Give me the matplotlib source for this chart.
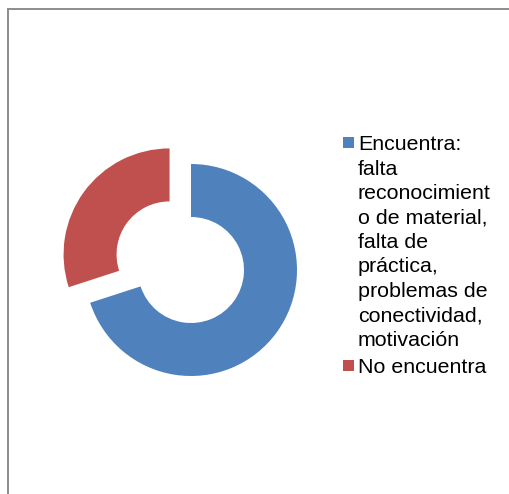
import matplotlib
matplotlib.use("Agg")
import matplotlib.pyplot as plt
from matplotlib.lines import Line2D
from matplotlib.patches import Rectangle

# data
labels = [
    "Encuentra:\nfalta\nreconocimient\no de material,\nfalta de\npráctica,\nproblemas de\nconectividad,\nmotivación",
    "No encuentra",
]
values = [70, 30]
colors = ["#4F81BD", "#C0504D"]
explode = [0, 0.25]

W, H = 510, 494
DPI = 100
fig = plt.figure(figsize=(W / DPI, H / DPI), dpi=DPI)
fig.patch.set_facecolor("white")

plt.rcParams["font.family"] = ["Liberation Sans", "DejaVu Sans"]


def fx(px):
    return px / W


def fy(py):
    return 1 - py / H


# donut: centre (191, 270) px, outer radius 106 px
cx, cy, r = 191, 270, 106
span = 1.5
ax = fig.add_axes([fx(cx - span * r), fy(cy + span * r), 2 * span * r / W, 2 * span * r / H])
ax.pie(values, colors=colors, explode=explode, startangle=90, counterclock=False,
       radius=1.0, wedgeprops=dict(width=0.5, linewidth=0))
ax.set_xlim(-span, span)
ax.set_ylim(-span, span)
ax.set_aspect("auto")
ax.axis("off")

# chart frame (left and top edges visible)
frame_col = "#8c8c8c"
fig.add_artist(Line2D([fx(8), fx(8)], [fy(9.5), 0], transform=fig.transFigure,
                      color=frame_col, linewidth=1.4))
fig.add_artist(Line2D([fx(8), 1], [fy(9.5), fy(9.5)], transform=fig.transFigure,
                      color=frame_col, linewidth=1.4))

# legend drawn by hand
text_x = 358
line_h = 24.5
base_y = 150
font_px = 21.4
for label, col in zip(labels, colors):
    lines = label.split("\n")
    fig.add_artist(Rectangle((fx(343), fy(base_y - 2)), 11 / W, 11 / H,
                             transform=fig.transFigure, facecolor=col, edgecolor="none"))
    for i, ln in enumerate(lines):
        fig.text(fx(text_x), fy(base_y + i * line_h), ln, fontsize=font_px * 72 / DPI,
                 va="baseline", ha="left", color="black")
    base_y += (len(lines) - 1) * line_h + 27

fig.savefig("out.png", dpi=DPI, facecolor="white")
